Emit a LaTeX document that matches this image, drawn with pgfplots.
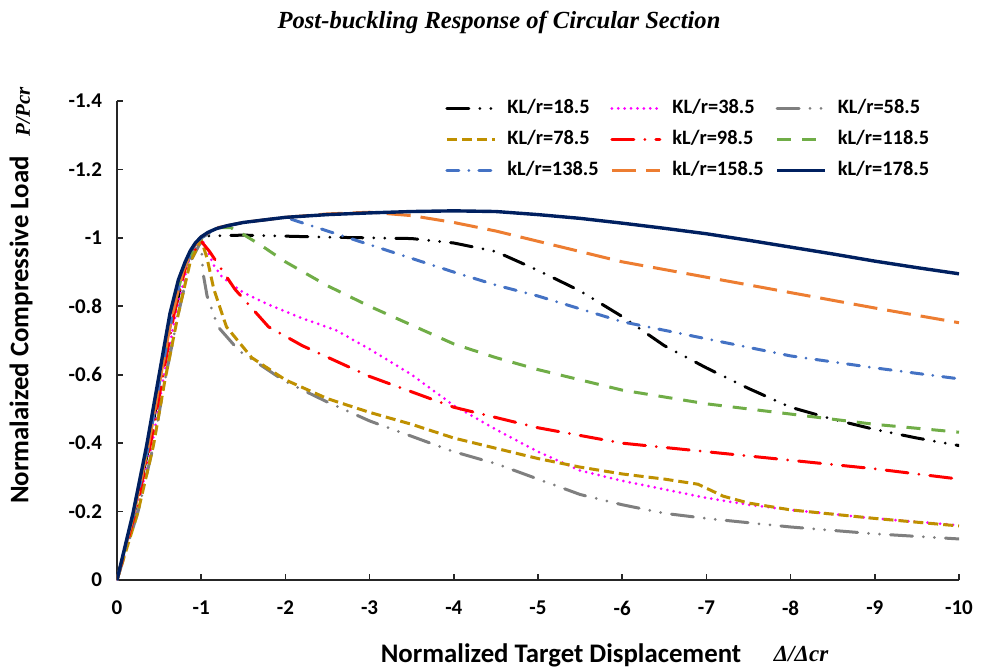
\documentclass[border=0pt]{standalone}
\usepackage{fontspec}
\setmainfont{Carlito}
\newfontfamily\timesfont{Liberation Serif}
\usepackage{pgfplots}
\pgfplotsset{compat=1.18}

\definecolor{cMag}{HTML}{FF00FF}
\definecolor{cGray}{HTML}{7F7F7F}
\definecolor{cGold}{HTML}{BF9000}
\definecolor{cRed}{HTML}{FF0000}
\definecolor{cGreen}{HTML}{70AD47}
\definecolor{cBlue}{HTML}{4472C4}
\definecolor{cOrange}{HTML}{ED7D31}
\definecolor{cNavy}{HTML}{002060}

\begin{document}
\begin{tikzpicture}
\useasboundingbox (0,0) rectangle (491.5pt,333pt);
\begin{axis}[
  at={(58.5pt,43pt)}, anchor=south west,
  scale only axis, width=421pt, height=239.5pt,
  xmin=-10, xmax=0, ymin=-1.4, ymax=0,
  x dir=reverse, y dir=reverse,
  axis x line*=bottom, axis y line*=left,
  axis line style={line width=0.8pt, black!85},
  every tick/.style={line width=0.8pt, black!85},
  tick align=inside, major tick length=3pt,
  xtick={0,-1,-2,-3,-4,-5,-6,-7,-8,-9,-10},
  ytick={0,-0.2,-0.4,-0.6,-0.8,-1,-1.2,-1.4},
  /pgf/number format/assume math mode=true,
  /pgf/number format/fixed,
  ticklabel style={font=\bfseries\fontsize{10.5}{12}\selectfont},
  xticklabel style={yshift=-7pt},
  yticklabel style={xshift=-4pt},
  legend columns=3,
  legend image code/.code={\draw[#1] (0pt,0pt) -- (24pt,0pt);},
  legend style={at={(axis description cs:0.3895,1.0167)}, anchor=north west,
    draw=none, fill=none, inner sep=0pt, row sep=0.5pt,
    font=\bfseries\fontsize{10.2}{12}\selectfont,
    nodes={text width=49pt, align=left, inner xsep=2.5pt, inner ysep=3pt,
      text height=7pt, text depth=2pt},
    /tikz/every even column/.append style={column sep=0pt},
    /tikz/every odd column/.append style={column sep=3pt}},
]
% KL/r = 18.5
\addplot[black, line width=1.5pt, line cap=round,
  dash pattern=on 11pt off 5.5pt on 0pt off 5.5pt on 0pt off 5.5pt]
  coordinates {(0,0)(-0.2,-0.19)(-0.38,-0.39)(-0.52,-0.585)(-0.68,-0.78)(-0.8,-0.9)
  (-0.9,-0.97)(-1.0,-1.005)(-1.5,-1.008)(-2,-1.005)(-2.5,-1.002)(-3,-1.0)(-3.5,-0.998)
  (-4,-0.985)(-4.5,-0.96)(-5,-0.905)(-5.5,-0.845)(-6,-0.77)(-6.5,-0.685)(-7,-0.62)
  (-7.5,-0.56)(-8,-0.505)(-8.5,-0.47)(-9,-0.44)(-9.5,-0.415)(-10,-0.393)};
\addlegendentry{KL/r=18.5}
% KL/r = 38.5
\addplot[cMag, line width=1.5pt, line cap=round, dash pattern=on 0pt off 3.2pt]
  coordinates {(0,0)(-0.23,-0.2)(-0.42,-0.4)(-0.55,-0.59)(-0.7,-0.78)(-0.85,-0.93)
  (-1,-1.0)(-1.05,-0.975)(-1.15,-0.92)(-1.25,-0.885)(-1.5,-0.84)(-1.8,-0.805)(-2.2,-0.765)
  (-2.6,-0.73)(-3,-0.675)(-3.5,-0.6)(-4,-0.51)(-4.5,-0.44)(-5,-0.375)(-5.5,-0.32)
  (-6,-0.29)(-6.5,-0.265)(-7,-0.24)(-7.5,-0.22)(-8,-0.205)(-9,-0.18)(-10,-0.16)};
\addlegendentry{KL/r=38.5}
% KL/r = 58.5
\addplot[cGray, line width=1.5pt, line cap=round,
  dash pattern=on 11pt off 5.5pt on 0pt off 5.5pt on 0pt off 5.5pt]
  coordinates {(0,0)(-0.25,-0.2)(-0.43,-0.39)(-0.57,-0.585)(-0.73,-0.78)(-0.87,-0.93)
  (-1,-0.99)(-1.02,-0.9)(-1.07,-0.83)(-1.2,-0.74)(-1.45,-0.67)(-2,-0.58)(-2.5,-0.52)
  (-3,-0.465)(-3.5,-0.42)(-4,-0.375)(-4.5,-0.34)(-5,-0.295)(-5.5,-0.25)(-6,-0.22)
  (-6.5,-0.195)(-7,-0.18)(-8,-0.155)(-9,-0.135)(-10,-0.12)};
\addlegendentry{KL/r=58.5}
% KL/r = 78.5
\addplot[cGold, line width=1.5pt, dash pattern=on 5pt off 2.5pt]
  coordinates {(0,0)(-0.25,-0.2)(-0.43,-0.39)(-0.57,-0.585)(-0.73,-0.78)(-0.87,-0.93)
  (-1,-0.995)(-1.07,-0.94)(-1.15,-0.85)(-1.3,-0.74)(-1.6,-0.65)(-2,-0.585)(-2.5,-0.53)
  (-3,-0.49)(-3.5,-0.455)(-4,-0.415)(-4.5,-0.385)(-5,-0.355)(-5.5,-0.33)(-6,-0.31)
  (-6.5,-0.295)(-6.9,-0.28)(-7.2,-0.245)(-7.5,-0.225)(-8,-0.205)(-9,-0.18)(-10,-0.158)};
\addlegendentry{KL/r=78.5}
% kL/r = 98.5
\addplot[cRed, line width=1.5pt, line cap=round,
  dash pattern=on 11pt off 5.5pt on 0pt off 5.5pt]
  coordinates {(0,0)(-0.22,-0.2)(-0.4,-0.4)(-0.54,-0.59)(-0.68,-0.78)(-0.83,-0.93)
  (-1,-0.99)(-1.1,-0.96)(-1.4,-0.85)(-1.8,-0.74)(-2.2,-0.685)(-2.6,-0.64)(-3,-0.595)
  (-3.5,-0.55)(-4,-0.505)(-4.5,-0.475)(-5,-0.445)(-6,-0.4)(-7,-0.375)(-8,-0.35)
  (-9,-0.325)(-10,-0.295)};
\addlegendentry{kL/r=98.5}
% kL/r = 118.5
\addplot[cGreen, line width=1.5pt, dash pattern=on 7pt off 5.5pt]
  coordinates {(0,0)(-0.2,-0.195)(-0.37,-0.39)(-0.51,-0.585)(-0.66,-0.78)(-0.78,-0.9)
  (-0.9,-0.965)(-1,-1.0)(-1.2,-1.03)(-1.35,-1.03)(-1.5,-1.01)(-1.7,-0.98)(-2,-0.93)
  (-2.5,-0.86)(-3,-0.8)(-3.5,-0.745)(-4,-0.69)(-4.5,-0.65)(-5,-0.615)(-6,-0.555)
  (-7,-0.515)(-8,-0.485)(-9,-0.455)(-10,-0.432)};
\addlegendentry{kL/r=118.5}
% kL/r = 138.5
\addplot[cBlue, line width=1.5pt, line cap=round,
  dash pattern=on 6pt off 5pt on 0pt off 5pt]
  coordinates {(0,0)(-0.2,-0.195)(-0.37,-0.39)(-0.51,-0.585)(-0.66,-0.78)(-0.78,-0.9)
  (-0.9,-0.965)(-1,-1.0)(-1.2,-1.03)(-1.5,-1.045)(-2,-1.06)(-2.5,-1.02)(-3,-0.98)
  (-3.5,-0.94)(-4,-0.9)(-4.5,-0.862)(-5,-0.83)(-6,-0.755)(-7,-0.705)(-8,-0.655)
  (-9,-0.62)(-10,-0.588)};
\addlegendentry{kL/r=138.5}
% kL/r = 158.5
\addplot[cOrange, line width=1.5pt, dash pattern=on 12pt off 5pt]
  coordinates {(0,0)(-0.2,-0.195)(-0.37,-0.39)(-0.51,-0.585)(-0.66,-0.78)(-0.78,-0.9)
  (-0.9,-0.97)(-1,-1.003)(-1.2,-1.03)(-1.5,-1.045)(-2,-1.06)(-2.5,-1.07)(-3,-1.075)
  (-3.5,-1.065)(-4,-1.045)(-4.5,-1.02)(-5,-0.99)(-6,-0.93)(-7,-0.885)(-8,-0.84)
  (-9,-0.795)(-10,-0.752)};
\addlegendentry{kL/r=158.5}
% kL/r = 178.5
\addplot[cNavy, line width=1.7pt]
  coordinates {(0,0)(-0.19,-0.195)(-0.35,-0.39)(-0.49,-0.585)(-0.63,-0.78)(-0.73,-0.878)
  (-0.81,-0.93)(-0.87,-0.962)(-0.93,-0.985)(-1.0,-1.003)(-1.08,-1.016)(-1.18,-1.027)
  (-1.3,-1.035)(-1.5,-1.045)(-2,-1.06)(-2.5,-1.068)
  (-3,-1.073)(-3.5,-1.077)(-4,-1.079)(-4.5,-1.077)(-5,-1.068)(-5.5,-1.057)(-6,-1.043)
  (-6.5,-1.028)(-7,-1.012)(-7.5,-0.993)(-8,-0.973)(-8.5,-0.953)(-9,-0.932)(-9.5,-0.913)
  (-10,-0.895)};
\addlegendentry{kL/r=178.5}
\end{axis}
% titles and axis labels
\node at (249.5pt,322pt) {\timesfont\bfseries\itshape\fontsize{12.3}{14}\selectfont Post-buckling Response of Circular Section};
\node[rotate=90] at (11.5pt,277pt) {\timesfont\bfseries\itshape\fontsize{10.5}{12}\selectfont P/Pcr};
\node[rotate=90] at (10.5pt,168pt) {\bfseries\fontsize{13.4}{15}\selectfont Normalaized Compressive Load};
\node at (280.5pt,5.5pt) {\bfseries\fontsize{13.4}{15}\selectfont Normalized Target Displacement};
\node at (400.5pt,6pt) {\timesfont\bfseries\itshape\fontsize{11.5}{13}\selectfont Δ/Δcr};
\end{tikzpicture}
\end{document}
